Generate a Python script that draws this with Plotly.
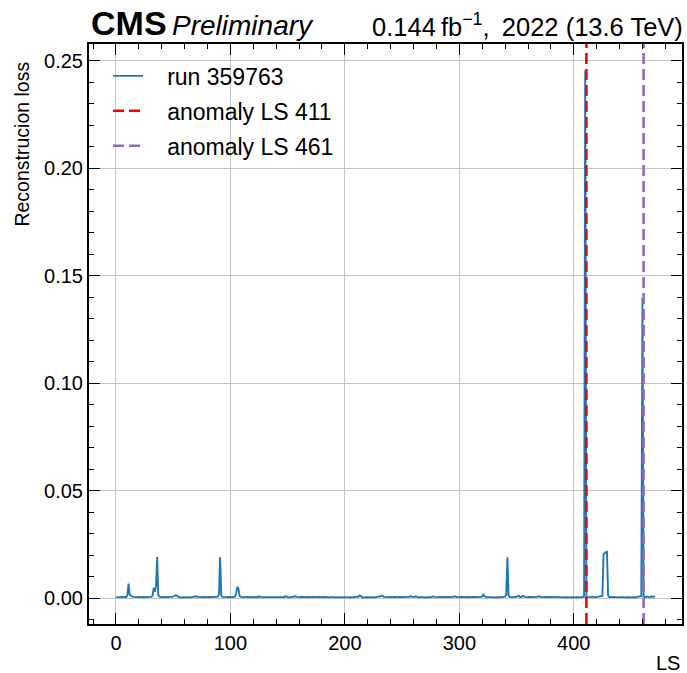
import plotly.graph_objects as go

# Reconstruction loss per lumisection (units of 1e-3), LS index 0..471
loss_e3 = [
    0.5, 0.4, 0.5, 0.4, 0.6, 0.5, 0.4, 0.5, 0.6, 0.5, 1.4, 6.8, 1.6, 1.0, 0.9, 0.6, 0.5, 0.4, 0.5, 0.5,
    0.6, 0.5, 0.4, 0.5, 0.6, 0.5, 0.4, 0.5, 0.6, 0.5, 0.7, 0.6, 1.2, 4.8, 3.0, 5.6, 19.2, 1.4, 0.7, 0.5,
    0.5, 0.4, 0.6, 0.5, 0.5, 0.4, 0.5, 0.6, 0.5, 0.6, 0.8, 1.1, 1.4, 1.2, 0.7, 0.5, 0.4, 0.5, 0.6, 0.5,
    0.5, 0.4, 0.5, 0.6, 0.5, 0.4, 0.5, 0.6, 0.5, 0.5, 0.9, 0.6, 0.5, 0.4, 0.5, 0.5, 0.6, 0.5, 0.4, 0.5,
    0.5, 0.6, 0.5, 0.4, 0.5, 0.6, 0.5, 0.5, 0.6, 0.8, 1.8, 19.0, 1.2, 0.6, 0.5, 0.5, 0.4, 0.5, 0.6, 0.5,
    0.5, 0.4, 0.5, 0.6, 0.7, 2.2, 5.3, 4.6, 1.0, 0.6, 0.5, 0.4, 0.5, 0.5, 0.6, 0.5, 0.4, 0.5, 0.6, 0.5,
    0.5, 0.4, 0.5, 0.6, 0.5, 0.9, 0.6, 0.5, 0.4, 0.5, 0.5, 0.6, 0.5, 0.4, 0.5, 0.5, 0.6, 0.5, 0.4, 0.5,
    0.5, 0.6, 0.5, 0.4, 0.5, 0.6, 0.5, 0.5, 1.0, 0.6, 0.5, 0.4, 0.5, 0.6, 0.5, 0.5, 0.6, 0.9, 0.6, 0.5,
    0.4, 0.5, 0.6, 0.5, 0.5, 0.4, 0.5, 0.6, 0.5, 0.5, 0.4, 0.5, 0.6, 0.5, 0.5, 0.4, 0.5, 0.6, 0.5, 0.5,
    0.4, 0.5, 0.6, 0.5, 0.7, 0.5, 0.4, 0.5, 0.6, 0.5, 0.5, 0.4, 0.5, 0.6, 0.5, 0.5, 0.4, 0.5, 0.6, 0.5,
    0.5, 0.4, 0.5, 0.6, 0.5, 0.5, 0.4, 0.5, 0.6, 0.5, 0.5, 0.6, 0.8, 1.3, 0.7, 0.5, 0.4, 0.5, 0.6, 0.5,
    0.5, 0.4, 0.5, 0.6, 0.5, 0.5, 0.4, 0.5, 0.6, 0.5, 0.5, 0.6, 0.7, 1.1, 0.6, 0.5, 0.4, 0.5, 0.6, 0.5,
    0.5, 0.4, 0.5, 0.6, 0.5, 0.5, 0.4, 0.5, 0.6, 0.5, 0.5, 0.4, 0.5, 0.6, 0.5, 0.5, 0.6, 0.7, 1.0, 0.6,
    0.5, 0.6, 0.9, 0.5, 0.4, 0.5, 0.6, 0.5, 0.5, 0.4, 0.5, 0.6, 0.5, 0.5, 0.4, 0.6, 0.7, 0.8, 0.6, 0.5,
    0.5, 0.4, 0.5, 0.6, 0.5, 0.5, 0.4, 0.5, 0.6, 0.5, 0.5, 0.4, 0.5, 0.6, 0.5, 0.6, 0.9, 0.6, 0.5, 0.5,
    0.4, 0.5, 0.6, 0.5, 0.5, 0.4, 0.5, 0.6, 0.5, 0.5, 0.4, 0.5, 0.6, 0.5, 0.5, 0.4, 0.5, 0.6, 0.5, 0.6,
    0.8, 1.6, 0.9, 0.5, 0.4, 0.5, 0.6, 0.5, 0.5, 0.4, 0.5, 0.6, 0.5, 0.5, 0.4, 0.5, 0.6, 0.5, 0.5, 0.6,
    0.7, 1.5, 19.0, 1.3, 0.6, 0.5, 0.4, 0.5, 0.6, 0.5, 0.6, 0.9, 1.2, 0.6, 0.5, 0.9, 1.1, 0.6, 0.5, 0.4,
    0.5, 0.6, 0.5, 0.5, 0.4, 0.5, 0.6, 0.5, 0.6, 0.8, 0.9, 0.6, 0.5, 0.4, 0.5, 0.6, 0.5, 0.5, 0.4, 0.5,
    0.6, 0.5, 0.5, 0.7, 0.5, 0.4, 0.5, 0.6, 0.5, 0.5, 0.4, 0.5, 0.6, 0.5, 0.5, 0.4, 0.5, 0.6, 0.5, 0.5,
    0.4, 0.5, 0.6, 0.5, 0.5, 0.4, 0.5, 0.6, 0.5, 0.7, 245.5, 0.9, 0.6, 0.5, 0.7, 0.5, 0.8, 0.5, 0.4, 0.5,
    0.6, 0.5, 0.5, 0.6, 0.8, 1.0, 20.5, 21.2, 21.4, 21.5, 1.2, 0.5, 0.4, 0.5, 0.6, 0.5, 0.5, 0.6, 0.5, 0.4,
    0.5, 0.6, 0.5, 0.5, 0.4, 0.5, 0.6, 0.5, 0.5, 0.4, 0.5, 0.6, 0.5, 0.5, 0.4, 0.5, 0.6, 0.5, 0.6, 1.0,
    139.7, 1.2, 0.6, 0.5, 0.8, 0.5, 0.4, 0.5, 0.9, 0.6, 0.8, 0.6,
]
ls = list(range(len(loss_e3)))
loss = [v * 1e-3 for v in loss_e3]

run_label = "run 359763"
anomalies = [411, 461]
anomaly_colors = ["#ff0000", "#9467bd"]

x_range = [-23.55, 494.55]
y_range = [-0.0120, 0.2578]
x_ticks = [0, 100, 200, 300, 400]
y_ticks = [0.00, 0.05, 0.10, 0.15, 0.20, 0.25]
y_ticklabels = ["0.00", "0.05", "0.10", "0.15", "0.20", "0.25"]

FONT = "Liberation Sans, Arial, Helvetica, sans-serif"
NB = "\u00a0\u00a0\u00a0"

fig = go.Figure()
fig.add_trace(go.Scatter(
    x=ls, y=loss, mode="lines", name=NB + run_label, legendgroup="a",
    line=dict(color="#1f77b4", width=1.9),
))
for ls_a, col in zip(anomalies, anomaly_colors):
    fig.add_trace(go.Scatter(
        x=[ls_a, ls_a], y=y_range, mode="lines", name=NB + f"anomaly LS {ls_a}",
        legendgroup=f"ls{ls_a}",
        line=dict(color=col, width=2.6, dash="11px,5px"),
    ))
# helper trace so the mirrored (top/right) tick axes are drawn
fig.add_trace(go.Scatter(x=[ls[0]], y=[loss[0]], mode="lines", xaxis="x2", yaxis="y2",
                         showlegend=False, hoverinfo="skip", line=dict(width=0)))

tickfont = dict(family=FONT, size=20, color="black")
major = dict(ticks="inside", ticklen=11, tickwidth=1.2, tickcolor="black")
xminor = dict(ticks="inside", dtick=20, tick0=0, ticklen=5, tickwidth=1, tickcolor="black", showgrid=False)
yminor = dict(ticks="inside", dtick=0.01, tick0=0, ticklen=5, tickwidth=1, tickcolor="black", showgrid=False)

fig.update_layout(
    xaxis=dict(range=x_range, tickvals=x_ticks, showline=True, linecolor="black", linewidth=2,
               mirror=True, showgrid=True, gridcolor="#c4c4c4", gridwidth=1, zeroline=False,
               tickfont=tickfont, minor=xminor, **major),
    yaxis=dict(range=y_range, tickvals=y_ticks, ticktext=y_ticklabels, showline=True,
               linecolor="black", linewidth=2, mirror=True, showgrid=True, gridcolor="#c4c4c4",
               gridwidth=1, zeroline=False, tickfont=tickfont, minor=yminor, **major),
    xaxis2=dict(range=x_range, tickvals=x_ticks, overlaying="x", side="top", anchor="y",
                showticklabels=False, showgrid=False, zeroline=False, showline=False,
                minor=xminor, **major),
    yaxis2=dict(range=y_range, tickvals=y_ticks, overlaying="y", side="right", anchor="x",
                showticklabels=False, showgrid=False, zeroline=False, showline=False,
                minor=yminor, **major),
)

fig.update_layout(
    width=687, height=673,
    margin=dict(l=89, r=3, t=44, b=49),
    plot_bgcolor="white", paper_bgcolor="white",
    font=dict(family=FONT, color="black"),
    showlegend=True,
    legend=dict(
        x=0.032, y=0.982, xanchor="left", yanchor="top",
        bgcolor="rgba(0,0,0,0)", borderwidth=0,
        font=dict(family=FONT, size=23, color="black"),
        tracegroupgap=2,
    ),
    annotations=[
        dict(text="<b>CMS</b>", xref="paper", yref="paper", x=0.0, y=1.0,
             xanchor="left", yanchor="bottom", showarrow=False, xshift=0, yshift=0,
             font=dict(family=FONT, size=34, color="black")),
        dict(text="<i>Preliminary</i>", xref="paper", yref="paper", x=0.137, y=1.0,
             xanchor="left", yanchor="bottom", showarrow=False, yshift=1,
             font=dict(family=FONT, size=28, color="black")),
        dict(text="0.144\u2009fb<sup>\u22121</sup>,\u2009 2022 (13.6 TeV)", xref="paper", yref="paper",
             x=1.0, y=1.0, xanchor="right", yanchor="bottom", showarrow=False, yshift=1, xshift=3,
             font=dict(family=FONT, size=25.5, color="black")),
        dict(text="Reconstrucion loss", xref="paper", yref="paper", x=-0.113, y=0.8283,
             xanchor="center", yanchor="middle", textangle=-90, showarrow=False,
             font=dict(family=FONT, size=19.5, color="black")),
        dict(text="LS", xref="paper", yref="paper", x=1.0, y=0.0,
             xanchor="right", yanchor="top", showarrow=False, yshift=-26,
             font=dict(family=FONT, size=20, color="black")),
    ],
)

fig.write_html(
    "out.html",
    config={"displayModeBar": False},
    post_script="document.body.style.margin='0px';document.body.style.overflow='hidden';",
)
